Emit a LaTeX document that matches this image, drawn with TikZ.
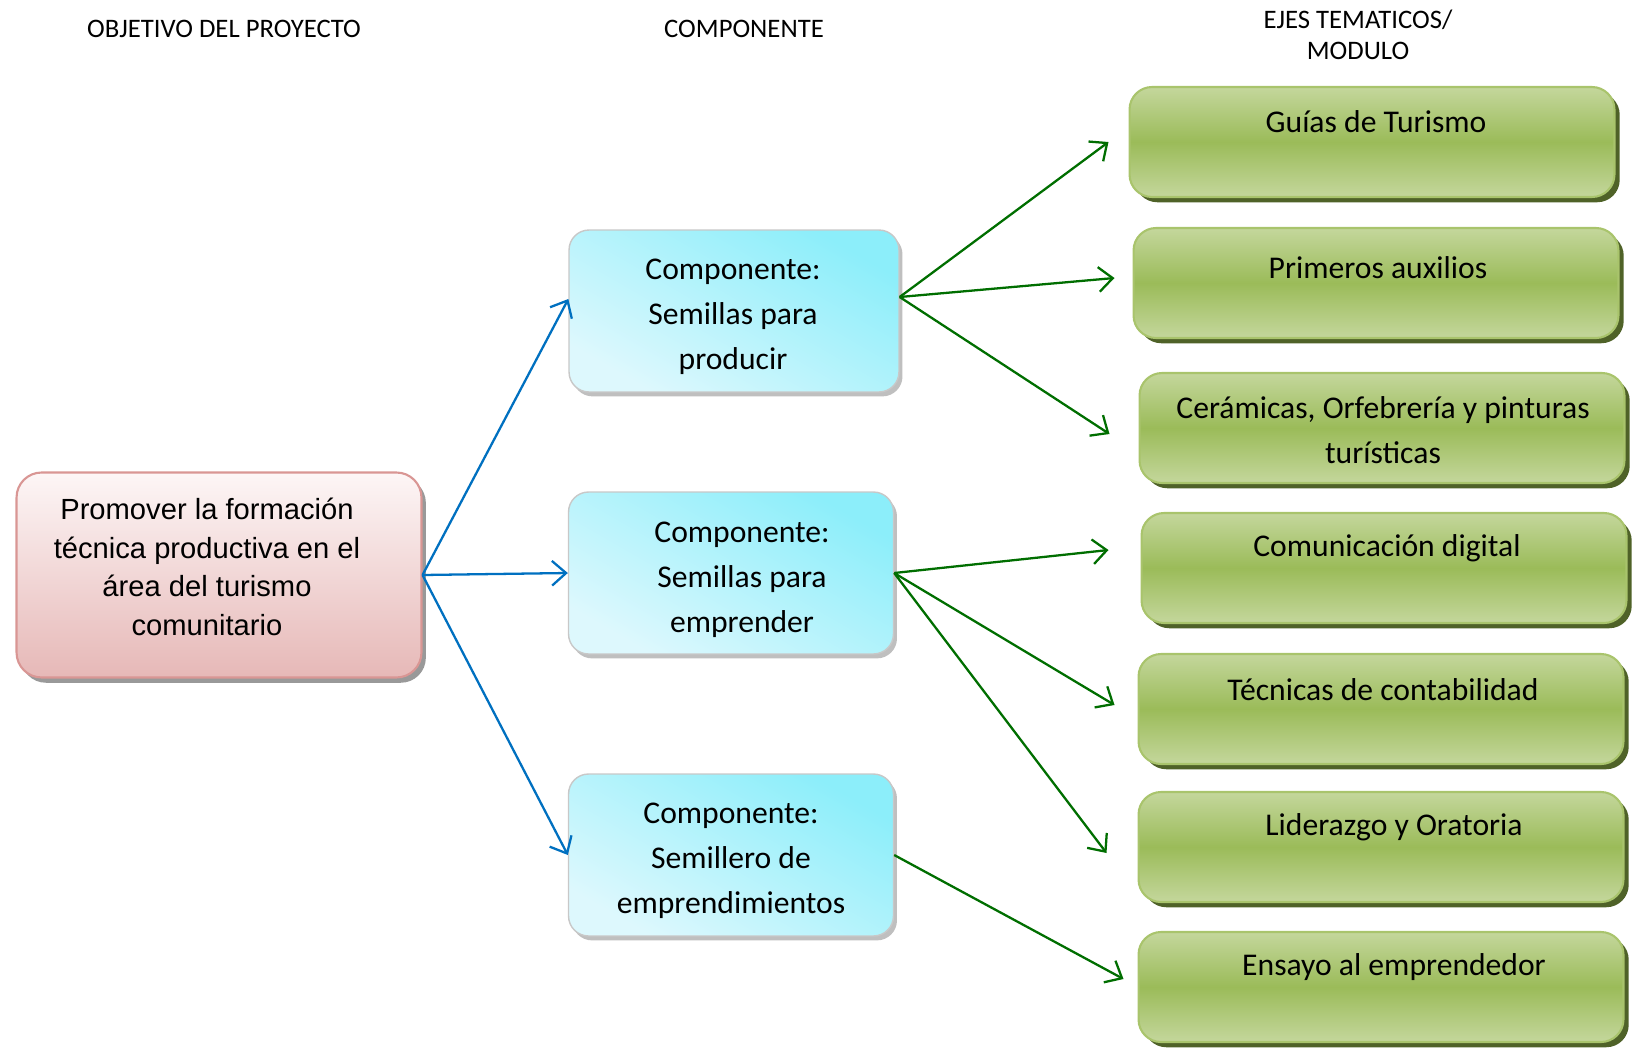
\documentclass[tikz,border=0pt]{standalone}
\usepackage{fontspec}
\setmainfont{Carlito}
\newfontfamily\arialfont{Liberation Sans}
\usetikzlibrary{arrows.meta,shadows}

\definecolor{objtop}{HTML}{FDF6F6}
\definecolor{objbottom}{HTML}{E6B8B7}
\definecolor{objline}{HTML}{D99694}
\definecolor{complight}{HTML}{DDF8FD}
\definecolor{compdark}{HTML}{8CEEFA}
\definecolor{compline}{HTML}{C8C8C8}
\definecolor{ejelight}{HTML}{C4D79C}
\definecolor{ejemid}{HTML}{9BBB59}
\definecolor{ejeline}{HTML}{A9C46C}
\definecolor{ejeshadow}{HTML}{4F6228}
\definecolor{arrowblue}{HTML}{0070C0}
\definecolor{arrowgreen}{HTML}{006E00}

\tikzset{
  header/.style={font=\fontsize{15.2}{18}\selectfont, align=center},
  objbox/.style={draw=objline, line width=1.2pt, rounded corners=0.5cm,
      top color=objtop, bottom color=objbottom,
      drop shadow={shadow xshift=2.5pt, shadow yshift=-3pt, fill=black!40, opacity=1},
      minimum width=8.1cm, minimum height=4.1cm, inner sep=0pt},
  objtext/.style={font=\arialfont\fontsize{16.6}{22}\selectfont, align=center},
  compbox/.style={draw=compline, line width=0.8pt, rounded corners=0.4cm,
      left color=compdark, right color=complight, shading angle=-30,
      drop shadow={shadow xshift=2pt, shadow yshift=-2.5pt, fill=black!25, opacity=1},
      minimum height=3.24cm, inner sep=0pt},
  comptext/.style={font=\fontsize{18}{25.5}\selectfont, align=center},
  ejebox/.style={draw=ejeline, line width=1.2pt, rounded corners=0.45cm,
      top color=ejelight, bottom color=ejelight, middle color=ejemid,
      drop shadow={shadow xshift=3pt, shadow yshift=-3pt, fill=ejeshadow, opacity=1},
      minimum width=9.7cm, minimum height=2.2cm, inner sep=0pt},
  ejetext/.style={font=\fontsize{18}{25.5}\selectfont, align=center},
  bluearrow/.style={draw=arrowblue, line width=1.3pt,
      -{Straight Barb[length=8pt,width=14pt]}},
  greenarrow/.style={draw=arrowgreen, line width=1.3pt,
      -{Straight Barb[length=8pt,width=14pt]}},
}

\begin{document}
\begin{tikzpicture}[
      x = 0.02cm,
      y = -0.02cm,
  ]

  \useasboundingbox (0,0) rectangle (1636,1048);

  % headers
  \node[header] (hobj) at (224,29) {OBJETIVO DEL PROYECTO};
  \node[header] (hcomp) at (744,29) {COMPONENTE};
  \node[header] (heje) at (1358,35) {EJES TEMATICOS/\\MODULO};

  % objetivo
  \node[objbox] (obj) at (219,575) {};
  \node[objtext] (objt) at (207,567)
      {Promover la formación\\técnica productiva en el\\área del turismo\\comunitario};

  % componentes
  \node[compbox, minimum width=6.6cm] (comp1) at (734,311) {};
  \node[compbox, minimum width=6.5cm] (comp2) at (731,573) {};
  \node[compbox, minimum width=6.5cm] (comp3) at (731,855) {};

  \node[comptext] (ct1) at (733,317) {Componente:\\Semillas para\\producir};
  \node[comptext] (ct2) at (742,580) {Componente:\\Semillas para\\emprender};
  \node[comptext] (ct3) at (731,861) {Componente:\\Semillero de\\emprendimientos};

  % ejes tematicos
  \node[ejebox] (eje1) at (1372,142) {};
  \node[ejebox] (eje2) at (1376,283) {};
  \node[ejebox] (eje3) at (1382,428) {};
  \node[ejebox] (eje4) at (1384,568) {};
  \node[ejebox] (eje5) at (1381,709) {};
  \node[ejebox] (eje6) at (1381,847) {};
  \node[ejebox] (eje7) at (1381,987) {};

  \node[ejetext] (t1) at (1376,122) {Guías de Turismo};
  \node[ejetext] (t2) at (1378,268) {Primeros auxilios};
  \node[ejetext] (t3) at (1383,430) {Cerámicas, Orfebrería y pinturas\\turísticas};
  \node[ejetext] (t4) at (1387,548) {Comunicación digital};
  \node[ejetext] (t5) at (1383,690) {Técnicas de contabilidad};
  \node[ejetext] (t6) at (1394,827) {Liderazgo y Oratoria};
  \node[ejetext] (t7) at (1394,967) {Ensayo al emprendedor};

  % objetivo -> componentes
  \draw[bluearrow] (obj.east) -- ([yshift=0.24cm]comp1.west);
  \draw[bluearrow] (obj.east) -- (comp2.west);
  \draw[bluearrow] (obj.east) -- (comp3.west);

  % componentes -> ejes
  \draw[greenarrow] ([yshift=0.28cm]comp1.east) -- ([xshift=-0.4cm]eje1.west);
  \draw[greenarrow] ([yshift=0.28cm]comp1.east) -- ([xshift=-0.36cm,yshift=0.1cm]eje2.west);
  \draw[greenarrow] ([yshift=0.28cm]comp1.east) -- ([xshift=-0.58cm,yshift=-0.12cm]eje3.west);
  \draw[greenarrow] (comp2.east) -- ([xshift=-0.64cm,yshift=0.36cm]eje4.west);
  \draw[greenarrow] (comp2.east) -- ([xshift=-0.46cm,yshift=0.08cm]eje5.west);
  \draw[greenarrow] (comp2.east) -- ([xshift=-0.62cm,yshift=-0.12cm]eje6.west);
  \draw[greenarrow] (comp3.east) -- ([xshift=-0.28cm,yshift=0.16cm]eje7.west);

\end{tikzpicture}
\end{document}
